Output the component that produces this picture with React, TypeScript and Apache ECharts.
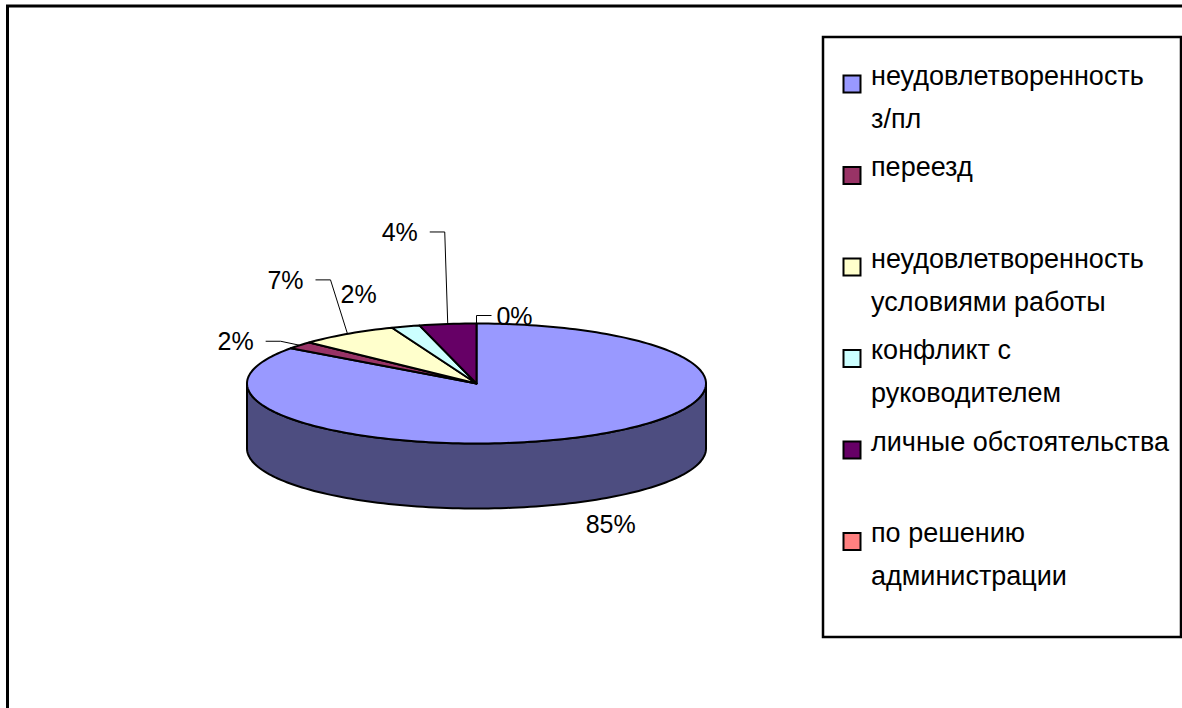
import React, { useEffect, useRef } from "react";
import * as echarts from "echarts";

// Reasons for leaving, share of total
const categories = [
  "неудовлетворенность з/пл",
  "переезд",
  "неудовлетворенность условиями работы",
  "конфликт с руководителем",
  "личные обстоятельства",
  "по решению администрации",
];
const legendLines = [
  ["неудовлетворенность", "з/пл"],
  ["переезд"],
  ["неудовлетворенность", "условиями работы"],
  ["конфликт с", "руководителем"],
  ["личные обстоятельства"],
  ["по решению", "администрации"],
];
const shares = [85, 2, 7, 2, 4, 0];
const topColors = ["#9999FF", "#993366", "#FFFFCC", "#CCFFFF", "#660066", "#FF8080"];

// ---- layout of the tilted pie ----
const CX = 476.5;
const CY = 383.5;
const RX = 229.5;
const RY = 60;
const DEPTH = 65;
const FONT = '"Liberation Sans", Arial, sans-serif';

// where each percentage label sits relative to its slice's rim point
const LABEL_NUDGE = [
  { dx: 30, dy: 22, leader: false },
  { dx: -64, dy: -4, leader: true },
  { dx: -62, dy: -54, leader: true },
  { dx: -47, dy: -32, leader: false },
  { dx: -48, dy: -92, leader: true },
  { dx: 38, dy: -8, leader: true },
];

function shade(hex: string, k: number): string {
  const n = parseInt(hex.slice(1), 16);
  const r = Math.round(((n >> 16) & 255) * k);
  const g = Math.round(((n >> 8) & 255) * k);
  const b = Math.round((n & 255) * k);
  return "rgb(" + r + "," + g + "," + b + ")";
}

// angle in degrees, clockwise from 12 o'clock
function pt(theta: number, dy = 0): number[] {
  const r = (theta * Math.PI) / 180;
  return [CX + RX * Math.sin(r), CY - RY * Math.cos(r) + dy];
}
function arc(a0: number, a1: number, dy = 0): number[][] {
  const n = Math.max(2, Math.ceil(Math.abs(a1 - a0) / 1.5));
  const out: number[][] = [];
  for (let k = 0; k <= n; k++) out.push(pt(a0 + ((a1 - a0) * k) / n, dy));
  return out;
}

export default function App() {
  const ref = useRef<HTMLDivElement>(null);

  useEffect(() => {
    if (!ref.current) return;
    const chart = echarts.init(ref.current, undefined, { renderer: "svg" });

    const total = shares.reduce((a, b) => a + b, 0);
    const starts: number[] = [];
    let acc = 0;
    for (const v of shares) {
      starts.push(acc);
      acc += v;
    }

    const renderItem = (params: any, api: any) => {
      const i = params.dataIndex;
      const v = api.value(0) as number;
      const a0 = (starts[i] / total) * 360;
      const a1 = a0 + (v / total) * 360;
      const children: any[] = [];
      if (v > 0) {
        const s0 = Math.max(a0, 90);
        const s1 = Math.min(a1, 270);
        if (s1 > s0) {
          const top = arc(s0, s1, 0);
          const bot = arc(s0, s1, DEPTH).reverse();
          children.push({
            type: "polygon",
            z2: 1,
            shape: { points: top.concat(bot) },
            style: { fill: shade(topColors[i], 0.5), stroke: "#000", lineWidth: 2, lineJoin: "round" },
          });
        }
        children.push({
          type: "polygon",
          z2: 2,
          shape: { points: [[CX, CY]].concat(arc(a0, a1, 0)) },
          style: { fill: topColors[i], stroke: "#000", lineWidth: 2, lineJoin: "round" },
        });
      }
      // percentage label
      const am = (a0 + a1) / 2;
      const front = Math.cos((am * Math.PI) / 180) < 0;
      const anchor = pt(am, front ? DEPTH : 0);
      const nudge = LABEL_NUDGE[i];
      const lx = anchor[0] + nudge.dx;
      const ly = anchor[1] + nudge.dy;
      const text = Math.round((v / total) * 100) + "%";
      children.push({
        type: "text",
        z2: 3,
        style: {
          text,
          x: lx,
          y: ly,
          fill: "#000",
          fontSize: 25,
          fontFamily: FONT,
          align: "center",
          verticalAlign: "middle",
        },
      });
      if (nudge.leader) {
        const halfW = (text.length === 2 ? 36 : 50) / 2;
        const dir = anchor[0] >= lx ? 1 : -1;
        const gap = i === shares.length - 1 ? 5 : 12;
        const sx = lx + dir * (halfW + gap);
        const hx = sx + dir * Math.min(15, Math.abs(anchor[0] - sx));
        children.push({
          type: "polyline",
          z2: 3,
          shape: { points: [[sx, ly], [hx, ly], anchor] },
          style: { stroke: "#000", lineWidth: 1, fill: "none" },
        });
      }
      return { type: "group", children };
    };

    // legend box built from the category list
    const legendItems: any[] = [];
    const rowTop = 76.5;
    const rowStep = 91.5;
    const lineStep = 43;
    legendLines.forEach((lines, i) => {
      const y0 = rowTop + i * rowStep;
      legendItems.push({
        type: "rect",
        shape: { x: 843.5, y: y0 - 1, width: 17, height: 17 },
        style: { fill: topColors[i], stroke: "#000", lineWidth: 2 },
      });
      lines.forEach((line, j) => {
        legendItems.push({
          type: "text",
          style: {
            text: line,
            x: 871,
            y: y0 + j * lineStep - 1,
            fill: "#000",
            fontSize: 27,
            fontFamily: FONT,
            align: "left",
            verticalAlign: "middle",
          },
        });
      });
    });

    chart.setOption({
      animation: false,
      backgroundColor: "#fff",
      series: [
        {
          type: "custom",
          coordinateSystem: "none",
          silent: true,
          renderItem,
          data: shares.map((v, i) => ({ name: categories[i], value: [v] })),
        },
      ],
      graphic: [
        {
          type: "rect",
          shape: { x: 7.5, y: 6, width: 1400, height: 1000 },
          style: { fill: "none", stroke: "#000", lineWidth: 3 },
          silent: true,
        },
        {
          type: "rect",
          shape: { x: 823, y: 37, width: 358, height: 600 },
          style: { fill: "#fff", stroke: "#000", lineWidth: 2.5 },
          silent: true,
        },
        ...legendItems,
      ],
    });

    return () => chart.dispose();
  }, []);

  return (
    <div
      ref={ref}
      style={{ position: "fixed", left: 0, top: 0, width: 1182, height: 708, background: "#fff" }}
    />
  );
}
